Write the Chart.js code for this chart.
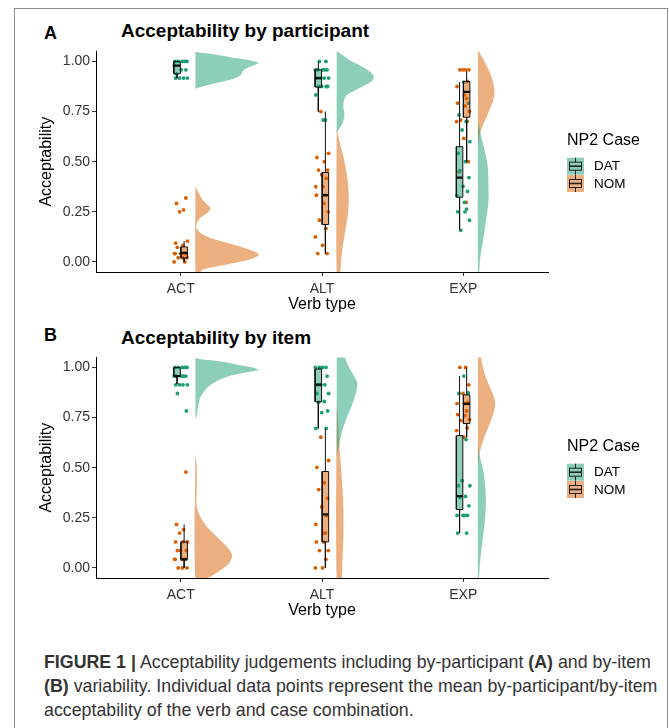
<!DOCTYPE html>
<html lang="en">
<head>
<meta charset="UTF-8">
<title>Acceptability judgements</title>
<script src="https://cdn.jsdelivr.net/npm/chart.js"></script>
<style>
  body { margin: 0; background: #fff; font-family: "Liberation Sans", Arial, sans-serif; }
  #frame { position: absolute; left: 14px; top: 8px; width: 652px; height: 760px; border: 1px solid #8a8a8a; border-bottom: none; }
  .tag { position: absolute; left: 44px; font-weight: bold; font-size: 18px; line-height: 18px; color: #000; }
  .ttl { position: absolute; left: 121px; font-weight: bold; font-size: 19px; line-height: 19px; color: #000; }
  canvas { position: absolute; left: 15px; }
  #caption { position: absolute; left: 44px; top: 650px; font-size: 17.8px; line-height: 24px; color: #333; white-space: nowrap; }
</style>
</head>
<body>
<div id="frame"></div>
<div class="tag" style="top:24px">A</div>
<div class="ttl" style="top:21px">Acceptability by participant</div>
<canvas id="chartA" width="651" height="280" style="top:41px"></canvas>
<div class="tag" style="top:326px">B</div>
<div class="ttl" style="top:328px">Acceptability by item</div>
<canvas id="chartB" width="651" height="280" style="top:347px"></canvas>
<div id="caption"><b>FIGURE 1 |</b> Acceptability judgements including by-participant <b>(A)</b> and by-item<br><b>(B)</b> variability. Individual data points represent the mean by-participant/by-item<br>acceptability of the verb and case combination.</div>

<script>
const CATEGORIES = ['ACT', 'ALT', 'EXP'];
const GROUPS = ['DAT', 'NOM'];
const Y_TICKS = [0, 0.25, 0.5, 0.75, 1];

// ---- Panel A: by participant ----
// individual means, one list per verb type (ACT, ALT, EXP)
const A_DAT_POINTS = [
  [1, 1, 1, 1, 1, 0.979, 0.958, 0.958, 0.938, 0.917, 0.917, 0.917, 0.917],
  [1, 1, 0.958, 0.958, 0.958, 0.958, 0.958, 0.917, 0.917, 0.917, 0.917, 0.875, 0.875, 0.875, 0.875, 0.833, 0.708, 0.708],
  [0.897, 0.792, 0.733, 0.7, 0.658, 0.6, 0.542, 0.5, 0.455, 0.421, 0.377, 0.352, 0.332, 0.297, 0.264, 0.25, 0.25, 0.208, 0.158]
];
const A_NOM_POINTS = [
  [0.319, 0.292, 0.26, 0.25, 0.104, 0.094, 0.083, 0.073, 0.042, 0.042, 0.042, 0.042, 0.042, 0.042, 0.042, 0.021, 0.021, 0.021, 0, 0],
  [0.75, 0.542, 0.521, 0.5, 0.458, 0.458, 0.435, 0.417, 0.375, 0.375, 0.333, 0.333, 0.292, 0.25, 0.208, 0.167, 0.125, 0.083, 0.042, 0.042],
  [0.958, 0.958, 0.958, 0.958, 0.9, 0.875, 0.833, 0.815, 0.792, 0.778, 0.75, 0.708, 0.7, 0.7, 0.616, 0.5, 0.45, 0.297]
];
// boxplot: [lower whisker, q1, median, q3, upper whisker]
const A_DAT_BOX = [[0.917, 0.938, 0.979, 1, 1], [0.75, 0.872, 0.917, 0.958, 1], [0.16, 0.323, 0.421, 0.575, 0.897]];
const A_NOM_BOX = [[0, 0.02, 0.045, 0.075, 0.104], [0.042, 0.187, 0.333, 0.446, 0.75], [0.5, 0.722, 0.848, 0.9, 0.952]];
// half-violin density: [y, density]
const A_DAT_DENS = [
  [[1.05, 0], [1.046, 2], [1.038, 15], [1.021, 35], [1.005, 55], [0.993, 63], [0.98, 58], [0.963, 50], [0.947, 47], [0.93, 45], [0.914, 38], [0.897, 25], [0.881, 12], [0.868, 2], [0.864, 0]],
  [[1.06, 0], [1.05, 0.7], [1.03, 6.7], [1.005, 13.3], [0.98, 23.3], [0.955, 31.7], [0.93, 36.7], [0.914, 36.7], [0.897, 34], [0.881, 28.3], [0.864, 21.7], [0.848, 15], [0.831, 10], [0.807, 7.3], [0.773, 6.7], [0.74, 7.7], [0.715, 7.3], [0.691, 5.7], [0.666, 2.7], [0.649, 0.7], [0.64, 0]],
  [[0.70, 0], [0.666, 1.5], [0.6, 4.5], [0.53, 8], [0.468, 10], [0.385, 10.5], [0.302, 10.5], [0.203, 8], [0.104, 5], [0.021, 2.3], [-0.06, 1]]
];
const A_NOM_DENS = [
  [[0.377, 0], [0.36, 1.7], [0.327, 5], [0.294, 10], [0.269, 15], [0.244, 11.7], [0.22, 5], [0.195, 1.7], [0.17, 1], [0.145, 5], [0.12, 15], [0.096, 31.7], [0.071, 48.3], [0.046, 61.7], [0.033, 63.3], [0.013, 55], [-0.012, 31.7], [-0.036, 8.3], [-0.06, 2]],
  [[0.666, 0], [0.641, 1], [0.591, 3.3], [0.526, 6.7], [0.46, 9.3], [0.393, 11.3], [0.327, 12], [0.261, 11.7], [0.195, 10], [0.129, 7.7], [0.063, 5.7], [-0.003, 4.3], [-0.06, 3.3]],
  [[1.06, 0.5], [1.05, 1], [1.0, 6.5], [0.93, 13], [0.86, 16.5], [0.8, 15], [0.765, 12], [0.72, 8.5], [0.683, 5], [0.633, 1.8], [0.584, 0.4], [0.55, 0]]
];

// ---- Panel B: by item ----
const B_DAT_POINTS = [
  [1, 1, 1, 1, 1, 0.957, 0.957, 0.957, 0.957, 0.957, 0.913, 0.913, 0.913, 0.913, 0.87, 0.783],
  [1, 1, 1, 1, 0.957, 0.913, 0.913, 0.913, 0.87, 0.87, 0.83, 0.826, 0.783, 0.775, 0.696, 0.696],
  [0.957, 0.873, 0.87, 0.64, 0.436, 0.41, 0.41, 0.357, 0.352, 0.31, 0.262, 0.262, 0.262, 0.262, 0.174, 0.174]
];
const B_NOM_POINTS = [
  [0.478, 0.217, 0.191, 0.174, 0.13, 0.13, 0.13, 0.087, 0.087, 0.087, 0.043, 0.043, 0.043, 0.043, 0.043, 0, 0, 0],
  [0.652, 0.536, 0.502, 0.425, 0.391, 0.348, 0.304, 0.261, 0.217, 0.174, 0.174, 0.13, 0.13, 0.087, 0.087, 0.043, 0, 0],
  [1, 1, 0.913, 0.87, 0.826, 0.82, 0.82, 0.783, 0.765, 0.76, 0.74, 0.735, 0.698, 0.685, 0.652]
];
const B_DAT_BOX = [[0.917, 0.957, 0.957, 1, 1], [0.696, 0.829, 0.914, 0.992, 1], [0.174, 0.292, 0.358, 0.66, 0.957]];
const B_NOM_BOX = [[0, 0.043, 0.043, 0.13, 0.217], [0, 0.13, 0.267, 0.481, 0.694], [0.652, 0.72, 0.818, 0.863, 1]];
const B_DAT_DENS = [
  [[1.05, 0], [1.042, 3], [1.033, 20], [1.008, 48], [0.989, 63], [0.975, 50], [0.959, 35], [0.934, 22], [0.9, 12], [0.851, 5], [0.801, 2.5], [0.78, 2], [0.751, 0.7], [0.74, 0]],
  [[1.06, 7], [1.0, 12.5], [0.96, 17], [0.925, 20.5], [0.89, 20], [0.851, 18], [0.801, 14.5], [0.735, 9], [0.669, 4.7], [0.602, 2], [0.569, 0.6], [0.55, 0]],
  [[0.62, 0], [0.569, 1.3], [0.486, 5.3], [0.403, 7.3], [0.32, 8], [0.237, 7], [0.137, 4.7], [0.037, 2.3], [-0.06, 0.7]]
];
const B_NOM_DENS = [
  [[0.57, 0], [0.53, 1], [0.486, 1.5], [0.403, 1.3], [0.337, 1], [0.296, 1.7], [0.254, 5], [0.204, 11.7], [0.154, 21.7], [0.104, 31.7], [0.063, 36.7], [0.022, 33.3], [-0.011, 25], [-0.06, 8]],
  [[0.8, 0], [0.785, 0.8], [0.735, 1.4], [0.65, 2.4], [0.569, 3.3], [0.48, 4.6], [0.403, 5.7], [0.303, 6.7], [0.154, 6.7], [0.038, 5.7], [-0.06, 4.6]],
  [[1.06, 2.5], [1.0, 5], [0.95, 8], [0.9, 12], [0.86, 15.5], [0.818, 17.3], [0.78, 16], [0.735, 13], [0.69, 9.5], [0.652, 6.3], [0.62, 4], [0.586, 2.3], [0.536, 0.7], [0.5, 0]]
];

// ---- styling ----
const STYLE = {
  DAT: { solid: '#1b9e77', fill: 'rgba(27,158,119,0.5)', boxOff: -0.026 },
  NOM: { solid: '#d95f02', fill: 'rgba(217,95,2,0.5)', boxOff: 0.024 }
};
const V_OFF = 0.104;         // violin baseline distance from category
const V_SCALE = 1 / 141.25;  // density unit -> x units
const BOX_W = 0.046;
const JITTER = [-0.040, 0.012, 0.044, -0.018, 0.028, -0.047, 0.004, 0.036, -0.030, 0.020,
                -0.008, 0.047, -0.036, 0.016, -0.024, 0.040, -0.002, 0.030, -0.044, 0.008, 0.024];

Chart.defaults.font.family = '"Liberation Sans", Arial, sans-serif';

function seg(data, width) {
  return { type: 'line', data, borderColor: '#111', borderWidth: width, pointRadius: 0, fill: false, tension: 0, order: 1 };
}

function panelDatasets(src) {
  const out = [];
  GROUPS.forEach(g => {
    const st = STYLE[g];
    CATEGORIES.forEach((name, i) => {
      const c = i + 1;
      // half violin (flat side at base)
      const base = c + V_OFF;
      const d = src[g].dens[i];
      const shape = d.map(([y, w]) => ({ x: base + w * V_SCALE, y }))
        .concat([{ x: base, y: d[d.length - 1][0] }, { x: base, y: d[0][0] }]);
      out.push({ type: 'line', data: shape, fill: 'shape', backgroundColor: st.fill,
        borderColor: 'rgba(0,0,0,0)', borderWidth: 0, pointRadius: 0, tension: 0.3, order: 4 });
      // jittered points
      const shift = g === 'NOM' ? 7 : 0;
      out.push({ type: 'scatter', data: src[g].pts[i].map((y, k) => ({ x: c + JITTER[(k + shift + i * 3) % JITTER.length], y })),
        backgroundColor: st.solid, borderWidth: 0, pointRadius: 1.9, order: 3 });
      // boxplot
      const [lo, q1, med, q3, hi] = src[g].box[i];
      const bx = c + st.boxOff, l = bx - BOX_W / 2, r = bx + BOX_W / 2;
      out.push({ type: 'line', data: [{ x: l, y: q1 }, { x: r, y: q1 }, { x: r, y: q3 }, { x: l, y: q3 }, { x: l, y: q1 }],
        fill: 'shape', backgroundColor: st.fill, borderColor: '#111', borderWidth: 1, pointRadius: 0, tension: 0, order: 2 });
      out.push(seg([{ x: bx, y: q3 }, { x: bx, y: hi }], 1));
      out.push(seg([{ x: bx, y: q1 }, { x: bx, y: lo }], 1));
      out.push(seg([{ x: l, y: med }, { x: r, y: med }], 2.2));
    });
  });
  return out;
}

// legend drawn next to the plot area, ggplot style
const caseLegend = {
  id: 'caseLegend',
  afterDraw(chart) {
    const { ctx, chartArea } = chart;
    const x0 = chartArea.right + 19;
    const yc = (chartArea.top + chartArea.bottom) / 2;
    ctx.save();
    ctx.textBaseline = 'middle';
    ctx.textAlign = 'left';
    ctx.fillStyle = '#000';
    ctx.font = '16px "Liberation Sans", Arial, sans-serif';
    ctx.fillText('NP2 Case', x0, yc - 21);
    ctx.font = '13.5px "Liberation Sans", Arial, sans-serif';
    GROUPS.forEach((g, i) => {
      const top = yc - 4 + i * 17.3;
      ctx.fillStyle = STYLE[g].fill;
      ctx.fillRect(x0, top, 17, 17);
      ctx.strokeStyle = '#222';
      ctx.lineWidth = 1;
      ctx.strokeRect(x0 + 2.5, top + 4.5, 12, 8);
      ctx.beginPath();
      ctx.moveTo(x0 + 8.5, top); ctx.lineTo(x0 + 8.5, top + 4.5);
      ctx.moveTo(x0 + 8.5, top + 12.5); ctx.lineTo(x0 + 8.5, top + 17);
      ctx.stroke();
      ctx.lineWidth = 1.6;
      ctx.beginPath();
      ctx.moveTo(x0 + 2.5, top + 8.5); ctx.lineTo(x0 + 14.5, top + 8.5);
      ctx.stroke();
      ctx.fillStyle = '#000';
      ctx.fillText(g, x0 + 27, top + 9);
    });
    ctx.restore();
  }
};

function makeChart(id, src) {
  return new Chart(document.getElementById(id), {
    type: 'scatter',
    data: { datasets: panelDatasets(src) },
    plugins: [caseLegend],
    options: {
      responsive: false,
      animation: false,
      events: [],
      layout: { padding: { top: 8, right: 118, bottom: 0, left: 0 } },
      plugins: { legend: { display: false }, tooltip: { enabled: false } },
      scales: {
        x: {
          type: 'linear', min: 0.4, max: 3.6,
          afterBuildTicks: s => { s.ticks = CATEGORIES.map((n, i) => ({ value: i + 1 })); },
          afterFit: s => { s.height = 49; },
          ticks: { callback: v => CATEGORIES[v - 1], font: { size: 14 }, color: '#333', padding: 5, maxRotation: 0 },
          grid: { display: true, drawOnChartArea: false, drawTicks: true, tickLength: 4, color: '#333' },
          border: { display: true, color: '#000', width: 1 },
          title: { display: true, text: 'Verb type', font: { size: 16 }, color: '#000', padding: { top: 0, bottom: 7 } }
        },
        y: {
          type: 'linear', min: -0.05, max: 1.05,
          afterBuildTicks: s => { s.ticks = Y_TICKS.map(v => ({ value: v })); },
          afterFit: s => { s.width = 81; },
          ticks: { callback: v => v.toFixed(2), font: { size: 14 }, color: '#333', padding: 2 },
          grid: { display: true, drawOnChartArea: false, drawTicks: true, tickLength: 4, color: '#333' },
          border: { display: true, color: '#000', width: 1 },
          title: { display: true, text: 'Acceptability', font: { size: 16 }, color: '#000', padding: { top: 22, bottom: 0 } }
        }
      }
    }
  });
}

makeChart('chartA', {
  DAT: { pts: A_DAT_POINTS, box: A_DAT_BOX, dens: A_DAT_DENS },
  NOM: { pts: A_NOM_POINTS, box: A_NOM_BOX, dens: A_NOM_DENS }
});
makeChart('chartB', {
  DAT: { pts: B_DAT_POINTS, box: B_DAT_BOX, dens: B_DAT_DENS },
  NOM: { pts: B_NOM_POINTS, box: B_NOM_BOX, dens: B_NOM_DENS }
});
</script>
</body>
</html>
